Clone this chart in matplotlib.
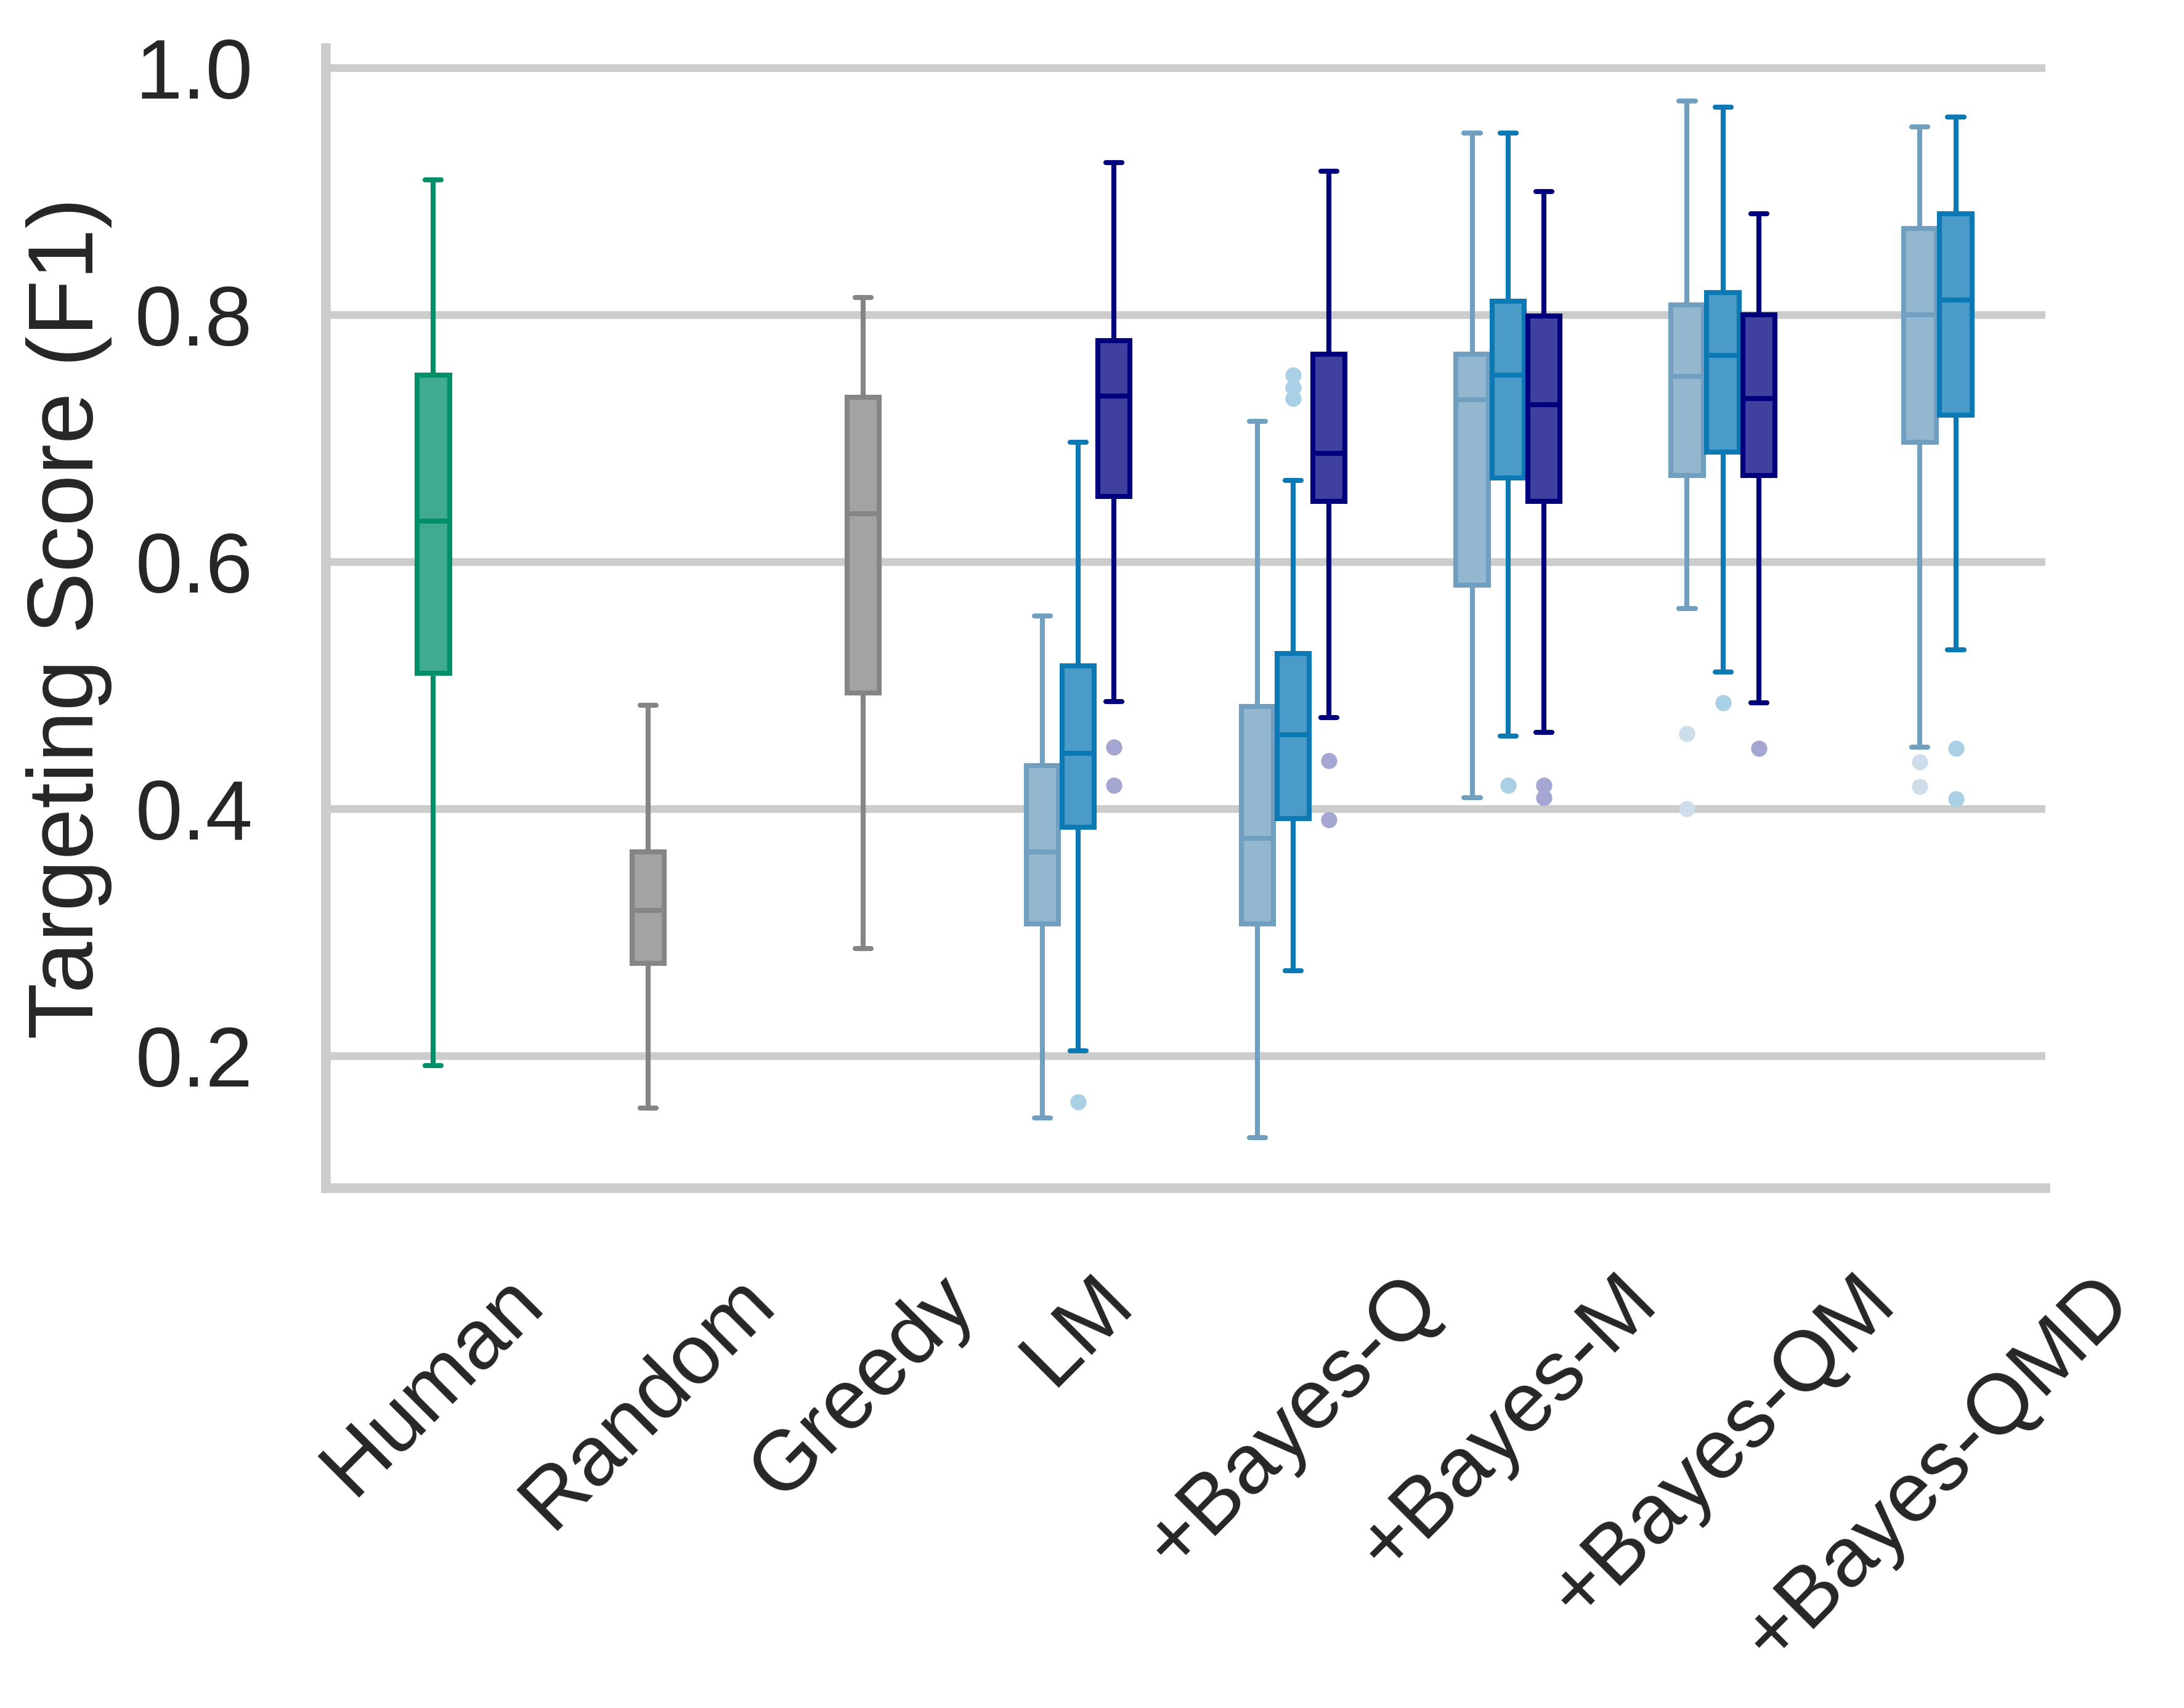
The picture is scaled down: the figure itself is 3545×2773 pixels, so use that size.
import numpy as np
import matplotlib
matplotlib.use("Agg")
import matplotlib.pyplot as plt
import matplotlib.colors as mcolors

plt.rcParams['font.family'] = ['Liberation Sans', 'DejaVu Sans']
plt.rcParams['text.color'] = '#262626'
plt.rcParams['axes.labelcolor'] = '#262626'
plt.rcParams['xtick.color'] = '#262626'
plt.rcParams['ytick.color'] = '#262626'

categories = ['Human', 'Random', 'Greedy', 'LM', '+Bayes-Q', '+Bayes-M',
              '+Bayes-QM', '+Bayes-QMD']

# baselines (one box each)
base_whislo = [0.192, 0.158, 0.287]
base_q1 = [0.510, 0.275, 0.494]
base_med = [0.633, 0.318, 0.639]
base_q3 = [0.751, 0.365, 0.733]
base_whishi = [0.909, 0.484, 0.814]
base_colors = ['#008f69', '#858585', '#858585']

# LM conditions, three model variants each (nan = missing)
nan = np.nan
hue_colors = ['#719fc0', '#0d79b4', '#00007d']

h1_whislo = [0.150, 0.134, 0.409, 0.562, 0.450]
h1_q1 = [0.307, 0.307, 0.581, 0.670, 0.697]
h1_med = [0.365, 0.376, 0.731, 0.750, 0.800]
h1_q3 = [0.435, 0.483, 0.768, 0.808, 0.870]
h1_whishi = [0.556, 0.714, 0.947, 0.973, 0.952]
h1_fliers = [[], [], [], [0.461, 0.400], [0.438, 0.418]]

h2_whislo = [0.204, 0.269, 0.459, 0.511, 0.529]
h2_q1 = [0.385, 0.392, 0.668, 0.689, 0.719]
h2_med = [0.445, 0.460, 0.751, 0.767, 0.812]
h2_q3 = [0.516, 0.526, 0.811, 0.818, 0.882]
h2_whishi = [0.697, 0.666, 0.947, 0.968, 0.960]
h2_fliers = [[0.163], [0.751, 0.741, 0.732], [0.419], [0.486], [0.449, 0.408]]

h3_whislo = [0.487, 0.474, 0.462, 0.486, nan]
h3_q1 = [0.653, 0.649, 0.649, 0.670, nan]
h3_med = [0.734, 0.688, 0.727, 0.732, nan]
h3_q3 = [0.779, 0.768, 0.799, 0.800, nan]
h3_whishi = [0.923, 0.916, 0.900, 0.882, nan]
h3_fliers = [[0.450, 0.419], [0.439, 0.391], [0.419, 0.409], [0.449], []]

hues = [
    (h1_whislo, h1_q1, h1_med, h1_q3, h1_whishi, h1_fliers),
    (h2_whislo, h2_q1, h2_med, h2_q3, h2_whishi, h2_fliers),
    (h3_whislo, h3_q1, h3_med, h3_q3, h3_whishi, h3_fliers),
]

LW = 1.3
BOX_W = 0.15
HUE_STEP = 0.1667


def blend(c, a):
    r, g, b = mcolors.to_rgb(c)
    return (a * r + 1 - a, a * g + 1 - a, a * b + 1 - a)


def draw_box(ax, pos, lo, q1, med, q3, hi, color, fliers=()):
    stats = [dict(whislo=lo, q1=q1, med=med, q3=q3, whishi=hi, fliers=list(fliers))]
    line = dict(color=color, linewidth=LW)
    ax.bxp(stats, positions=[pos], widths=BOX_W, patch_artist=True,
           showfliers=True, manage_ticks=False,
           boxprops=dict(facecolor=blend(color, 0.75), edgecolor=color, linewidth=LW),
           medianprops=line, whiskerprops=line,
           capprops=dict(color=color, linewidth=LW, solid_capstyle='round'),
           flierprops=dict(marker='o', markersize=4.2, linestyle='none',
                           markerfacecolor=blend(color, 0.35), markeredgecolor='none'),
           zorder=3)


fig = plt.figure(figsize=(3545 / 450, 2773 / 450), dpi=450)
ax = fig.add_axes([0.1492, 0.3044, 0.9365 - 0.1492, 0.9719 - 0.3044])

for i in range(3):
    draw_box(ax, i, base_whislo[i], base_q1[i], base_med[i], base_q3[i],
             base_whishi[i], base_colors[i])

for j in range(5):
    present = [k for k in range(3) if not np.isnan(hues[k][2][j])]
    n = len(present)
    for idx, k in enumerate(present):
        lo, q1, med, q3, hi, fl = hues[k]
        pos = 3 + j + (idx - (n - 1) / 2) * HUE_STEP
        draw_box(ax, pos, lo[j], q1[j], med[j], q3[j], hi[j], hue_colors[k], fl[j])

ax.set_xlim(-0.5, 7.5)
ax.set_ylim(0.093, 1.016)
ax.set_xticks(range(len(categories)))
ax.set_xticklabels(categories, rotation=45, fontsize=22)
ax.set_yticks([0.2, 0.4, 0.6, 0.8, 1.0])
ax.set_yticklabels(['0.2', '0.4', '0.6', '0.8', '1.0'], fontsize=22)
ax.tick_params(length=0, pad=19)
ax.set_ylabel('Targeting Score (F1)', fontsize=24, labelpad=6)

ax.set_axisbelow(True)
ax.yaxis.grid(True, color='#cccccc', linewidth=2)
ax.xaxis.grid(False)
for s in ['top', 'right']:
    ax.spines[s].set_visible(False)
for s in ['left', 'bottom']:
    ax.spines[s].set_color('#cccccc')
    ax.spines[s].set_linewidth(2.5)

fig.savefig('out.png', dpi=450)
